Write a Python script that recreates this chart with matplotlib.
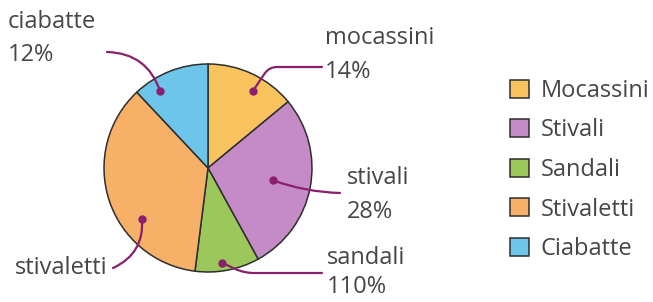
import numpy as np
import matplotlib.pyplot as plt

# chart data
categories = ["Mocassini", "Stivali", "Sandali", "Stivaletti", "Ciabatte"]
values = [14, 28, 10, 36, 12]
slice_labels = ["mocassini", "stivali", "sandali", "stivaletti", "ciabatte"]
pct_labels = ["14%", "28%", "110%", "", "12%"]

# colours
COLOURS = ["#f8c35c", "#c48bc6", "#9cc75b", "#f6b067", "#6ec5ea"]
EDGE = "#2e2e2e"
LEADER = "#8b1f6c"
TEXT = "#464646"
FONT = "Open Sans"
FS = 17

W, H = 653, 302


def fpx(x, y):
    # top-left pixel -> figure pixels (bottom-left origin)
    return (x, H - y)


fig = plt.figure(figsize=(W / 100, H / 100), dpi=100)
fig.patch.set_facecolor("white")

# pie: centre (208,168), radius 104 px
cx, cy, r = 208, 168, 104
ax = fig.add_axes([(cx - r) / W, (H - cy - r) / H, 2 * r / W, 2 * r / H])
wedges, _ = ax.pie(values, colors=COLOURS, startangle=90, counterclock=False,
                   wedgeprops=dict(edgecolor=EDGE, linewidth=1.1))
ax.set_xlim(-1, 1)
ax.set_ylim(-1, 1)
ax.set_aspect("equal")
ax.axis("off")

# label placement (style): name pos, pct pos, leader end, dot pos in wedge (frac, radius), connection
label_pos = {
    "mocassini": ((325, 38), (325, 72), (322, 67), (0.6, 0.86), "angle,angleA=0,angleB=56,rad=8"),
    "stivali": ((347, 178), (347, 212), (340, 193), (0.5, 0.64), "arc3,rad=-0.08"),
    "sandali": ((327, 258), (327, 287), (322, 273), (0.57, 0.92), "angle,angleA=0,angleB=-25,rad=10"),
    "stivaletti": ((15, 268), None, (113, 268), (0.35, 0.80), "arc3,rad=0.35"),
    "ciabatte": ((8, 22), (8, 55), (107, 52), (0.26, 0.87), "arc3,rad=-0.35"),
}

for w, name, pct in zip(wedges, slice_labels, pct_labels):
    npos, ppos, lend, (frac, rr), conn = label_pos[name]
    ang = np.radians(w.theta2 - frac * (w.theta2 - w.theta1))
    dx, dy = rr * np.cos(ang), rr * np.sin(ang)
    ax.annotate("", xy=(dx, dy), xytext=fpx(*lend), textcoords="figure pixels",
                arrowprops=dict(arrowstyle="-", color=LEADER, lw=1.6,
                                shrinkA=0, shrinkB=0, connectionstyle=conn))
    ax.plot(dx, dy, "o", color=LEADER, ms=5, zorder=5)
    fig.text(npos[0] / W, 1 - npos[1] / H, name, ha="left", va="center",
             fontsize=FS, color=TEXT, family=FONT)
    if ppos is not None and pct:
        fig.text(ppos[0] / W, 1 - ppos[1] / H, pct, ha="left", va="center",
                 fontsize=FS, color=TEXT, family=FONT)

leg = fig.legend(wedges, categories, loc="upper left",
                 bbox_to_anchor=(498 / W, 1 - 67 / H), frameon=False,
                 prop=dict(family=FONT, size=FS), labelcolor=TEXT,
                 handlelength=0.8, handleheight=0.8, handletextpad=0.5,
                 labelspacing=0.66, borderpad=0)

fig.savefig("out.png", dpi=100)
